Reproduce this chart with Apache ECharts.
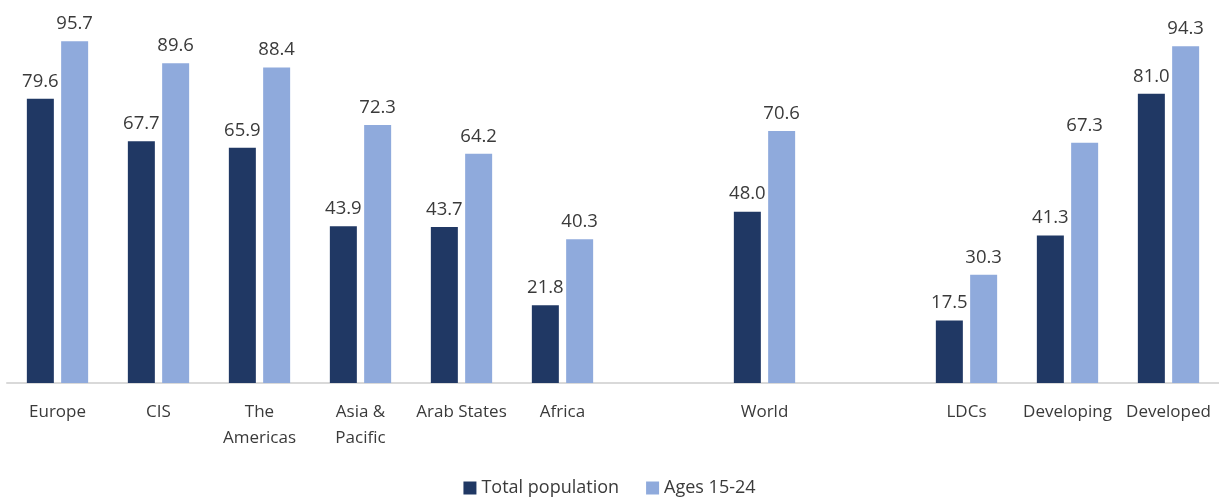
<!DOCTYPE html>
<html>
<head>
<meta charset="utf-8">
<script src="https://cdn.jsdelivr.net/npm/echarts@6/dist/echarts.min.js"></script>
<style>html,body{margin:0;padding:0;background:#fff;}#c{width:1219px;height:498px;}</style>
</head>
<body>
<div id="c"></div>
<script>
var categories = ['Europe', 'CIS', 'The\nAmericas', 'Asia &\nPacific', 'Arab States', 'Africa', '', 'World', '', 'LDCs', 'Developing', 'Developed'];
var totalPopulation = [79.6, 67.7, 65.9, 43.9, 43.7, 21.8, null, 48.0, null, 17.5, 41.3, 81.0];
var ages15to24 = [95.7, 89.6, 88.4, 72.3, 64.2, 40.3, null, 70.6, null, 30.3, 67.3, 94.3];
var seriesNames = ['Total population', 'Ages 15-24'];

var font = '"Open Sans", "DejaVu Sans", sans-serif';
var chart = echarts.init(document.getElementById('c'), null, {renderer: 'canvas'});
var labelCfg = {
  show: true, position: 'top', distance: 8,
  color: '#3a3a3a', fontSize: 18.5, fontFamily: font,
  formatter: function (p) { return p.value == null ? '' : Number(p.value).toFixed(1); }
};
chart.setOption({
  animation: false,
  grid: {left: 7, top: 26, width: 1216, bottom: 115, containLabel: false},
  legend: {
    top: 477, left: 'center', itemWidth: 13, itemHeight: 13, itemGap: 27,
    padding: [2, 5, 2, 5],
    icon: 'rect',
    textStyle: {color: '#3a3a3a', fontSize: 18, fontFamily: font},
    data: seriesNames
  },
  xAxis: {
    type: 'category', data: categories,
    axisLine: {lineStyle: {color: '#d9d9d9', width: 2}},
    axisTick: {show: false},
    axisLabel: {color: '#3a3a3a', fontSize: 17, fontFamily: font, lineHeight: 26, margin: 16, interval: 0}
  },
  yAxis: {type: 'value', min: 0, max: 100, show: false, splitLine: {show: false}},
  series: [
    {name: seriesNames[0], type: 'bar', data: totalPopulation, barWidth: 27, barGap: '27%',
     itemStyle: {color: '#203864'}, label: labelCfg},
    {name: seriesNames[1], type: 'bar', data: ages15to24, barWidth: 27,
     itemStyle: {color: '#8faadc'}, label: labelCfg}
  ]
});
</script>
</body>
</html>
